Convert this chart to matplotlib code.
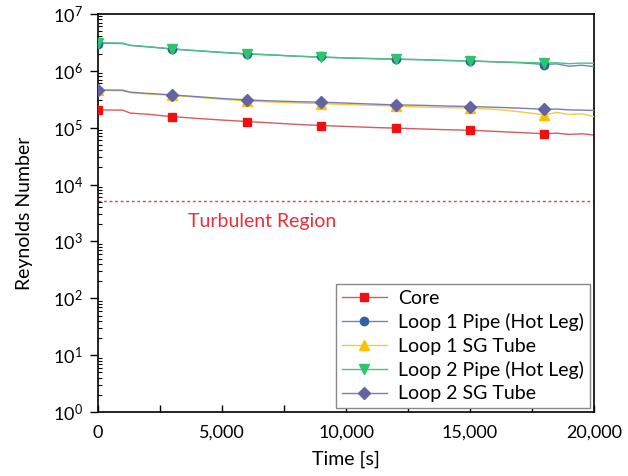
import math
import matplotlib.pyplot as plt
from matplotlib.lines import Line2D
from matplotlib.ticker import FixedLocator, LogLocator, NullFormatter, FuncFormatter

plt.rcParams['font.family'] = ['Lato', 'DejaVu Sans']
plt.rcParams['mathtext.fontset'] = 'custom'
plt.rcParams['mathtext.rm'] = 'Lato'

# time grid of the traces [s]
t_line = [0, 1000, 1300, 2000, 3000, 4000, 5000, 6000, 7000, 8000, 9000, 10000,
          11000, 12000, 13000, 14000, 15000, 16000, 17000, 18000, 18500, 19000, 19500, 20000]

core_line = [2.05e5, 2.03e5, 1.8e5, 1.72e5, 1.56e5, 1.45e5, 1.36e5, 1.28e5, 1.21e5, 1.14e5, 1.09e5, 1.05e5,
             1.01e5, 9.8e4, 9.5e4, 9.2e4, 9.0e4, 8.6e4, 8.2e4, 7.8e4, 8.0e4, 7.6e4, 7.8e4, 7.4e4]
loop1_pipe_line = [3.05e6, 3.0e6, 2.78e6, 2.63e6, 2.4e6, 2.24e6, 2.09e6, 1.97e6, 1.89e6, 1.8e6, 1.73e6, 1.68e6,
                   1.63e6, 1.59e6, 1.56e6, 1.51e6, 1.48e6, 1.43e6, 1.38e6, 1.29e6, 1.32e6, 1.2e6, 1.25e6, 1.18e6]
loop1_sg_line = [4.5e5, 4.45e5, 4.1e5, 3.9e5, 3.7e5, 3.42e5, 3.15e5, 2.95e5, 2.82e5, 2.72e5, 2.65e5, 2.55e5,
                 2.47e5, 2.4e5, 2.3e5, 2.25e5, 2.2e5, 2.1e5, 1.9e5, 1.68e5, 1.85e5, 1.7e5, 1.75e5, 1.56e5]
loop2_pipe_line = [3.1e6, 3.05e6, 2.8e6, 2.65e6, 2.42e6, 2.25e6, 2.1e6, 1.98e6, 1.9e6, 1.8e6, 1.74e6, 1.68e6,
                   1.64e6, 1.6e6, 1.57e6, 1.52e6, 1.49e6, 1.44e6, 1.4e6, 1.37e6, 1.38e6, 1.33e6, 1.36e6, 1.35e6]
loop2_sg_line = [4.6e5, 4.55e5, 4.2e5, 4.0e5, 3.76e5, 3.5e5, 3.25e5, 3.07e5, 2.95e5, 2.86e5, 2.8e5, 2.7e5,
                 2.6e5, 2.51e5, 2.47e5, 2.4e5, 2.35e5, 2.28e5, 2.2e5, 2.1e5, 2.12e5, 2.05e5, 2.03e5, 2.0e5]

# symbols every 3000 s
t_mark = [0, 3000, 6000, 9000, 12000, 15000, 18000]
core_mark = [2.05e5, 1.56e5, 1.28e5, 1.09e5, 9.8e4, 9.0e4, 7.8e4]
loop1_pipe_mark = [3.0e6, 2.45e6, 1.98e6, 1.78e6, 1.62e6, 1.5e6, 1.27e6]
loop1_sg_mark = [4.5e5, 3.7e5, 2.95e5, 2.65e5, 2.4e5, 2.2e5, 1.68e5]
loop2_pipe_mark = [3.05e6, 2.4e6, 1.98e6, 1.73e6, 1.6e6, 1.49e6, 1.36e6]
loop2_sg_mark = [4.6e5, 3.76e5, 3.07e5, 2.8e5, 2.51e5, 2.35e5, 2.1e5]

re_turb = 5.1e3

labels = ['Core', 'Loop 1 Pipe (Hot Leg)', 'Loop 1 SG Tube', 'Loop 2 Pipe (Hot Leg)', 'Loop 2 SG Tube']
lines = [core_line, loop1_pipe_line, loop1_sg_line, loop2_pipe_line, loop2_sg_line]
marks = [core_mark, loop1_pipe_mark, loop1_sg_mark, loop2_pipe_mark, loop2_sg_mark]
line_cols = ['#d85a5e', '#5f8fae', '#f0cc40', '#4cc088', '#7c7cae']
mark_cols = ['#ee1111', '#2e62a0', '#fcc000', '#2ec46e', '#6464a4']
symbols = ['s', 'o', '^', 'v', 'D']
msizes = [5.5, 6, 7.5, 7.5, 6]

fig = plt.figure(figsize=(6.28, 4.76), dpi=100)
ax = fig.add_axes([0.156, 0.134, 0.79, 0.837])

handles = []
for i in range(len(labels)):
    ax.plot(t_line, lines[i], color=line_cols[i], lw=1.0, zorder=2 + i)
    ax.plot(t_mark, marks[i], linestyle='none', marker=symbols[i], ms=msizes[i],
            color=mark_cols[i], mec=mark_cols[i], zorder=10 + i)
    handles.append(Line2D([], [], color=line_cols[i], lw=1.0, marker=symbols[i], ms=msizes[i],
                          mfc=mark_cols[i], mec=mark_cols[i]))

ax.axhline(re_turb, color='#d04848', lw=1.0, ls=(0, (2, 2)), zorder=1)
ax.text(6600, 2.2e3, 'Turbulent Region', color='#e8303a', fontsize=14, ha='center', va='center')

ax.set_yscale('log')
ax.set_xlim(0, 20000)
ax.set_ylim(1, 1e7)

ax.xaxis.set_major_locator(FixedLocator([0, 5000, 10000, 15000, 20000]))
ax.xaxis.set_minor_locator(FixedLocator([2500, 7500, 12500, 17500]))
ax.xaxis.set_major_formatter(FuncFormatter(lambda v, p: '{:,.0f}'.format(v)))
ax.xaxis.set_minor_formatter(NullFormatter())
ax.tick_params(axis='x', which='both', direction='in', length=5, width=1, labelsize=13, pad=9)
ax.yaxis.set_major_locator(LogLocator(base=10, numticks=10))
ax.yaxis.set_minor_locator(LogLocator(base=10, subs=range(2, 10), numticks=10))
ax.yaxis.set_minor_formatter(NullFormatter())
ax.yaxis.set_major_formatter(FuncFormatter(lambda v, p: r'$\mathregular{10^{%d}}$' % round(math.log10(v))))
ax.tick_params(axis='y', which='major', direction='out', length=6, width=1, labelsize=13, pad=5)
ax.tick_params(axis='y', which='minor', direction='in', length=3, width=0.8)

for s in ax.spines.values():
    s.set_linewidth(1.2)

ax.set_xlabel('Time [s]', fontsize=14, labelpad=7)
ax.set_ylabel('Reynolds Number', fontsize=14, labelpad=14)

leg = ax.legend(handles, labels, loc='lower right', fontsize=14, frameon=True, fancybox=False,
                edgecolor='#888888', framealpha=1, borderaxespad=0.2, handlelength=2.3,
                handletextpad=0.6, labelspacing=0.33, borderpad=0.3)
leg.get_frame().set_linewidth(1.0)

plt.savefig('out.png', dpi=100)
